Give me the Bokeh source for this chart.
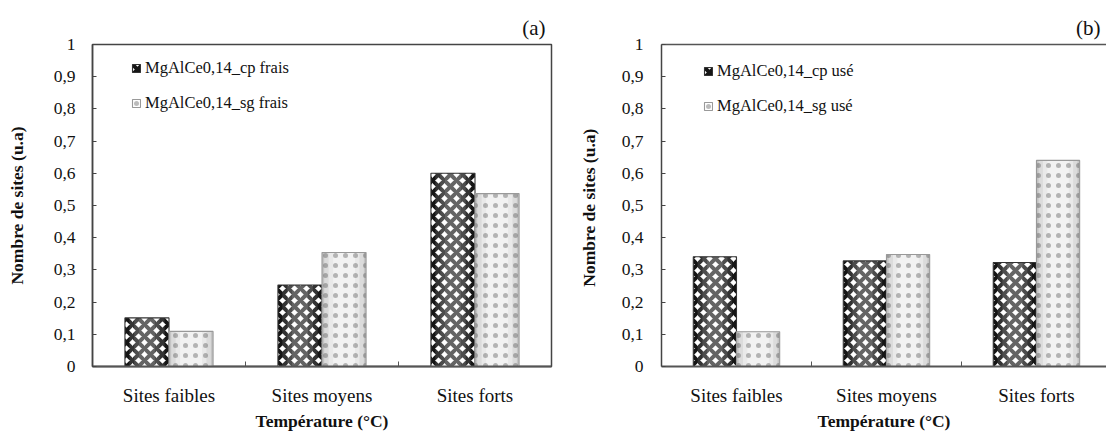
from bokeh.plotting import figure
from bokeh.layouts import row
from bokeh.models import (ColumnDataSource, FixedTicker, CustomJSTickFormatter, Legend,
                          LegendItem, LinearAxis, Range1d)
from bokeh.transform import dodge
from bokeh.embed import file_html
from bokeh.resources import INLINE

# ---- data ----
categories = ["Sites faibles", "Sites moyens", "Sites forts"]
y_ticks = [0, 0.1, 0.2, 0.3, 0.4, 0.5, 0.6, 0.7, 0.8, 0.9, 1.0]
frais_cp = [0.151, 0.253, 0.600]
frais_sg = [0.109, 0.354, 0.537]
use_cp = [0.341, 0.328, 0.323]
use_sg = [0.108, 0.348, 0.640]
labels_a = ["MgAlCe0,14_cp frais", "MgAlCe0,14_sg frais"]
labels_b = ["MgAlCe0,14_cp usé", "MgAlCe0,14_sg usé"]
y_title_a = "Nombre de sites (u.a)"
y_title_b = "Nombre  de sites (u.a)"
x_title = "Température (°C)"

FONT = "Liberation Serif"
BW = 0.288


def cp_bars(p, src, field, offset):
    x = dodge('idx', offset, range=None)
    base = p.vbar(x=x, top=field, width=BW, source=src, fill_color="white",
                  line_color=None, hatch_pattern="diagonal_cross",
                  hatch_color="#151515", hatch_weight=4, hatch_scale=12)
    for f in [0.8, 0.58, 0.36]:
        p.vbar(x=x, top=field, width=BW * f, source=src, fill_color="white",
               fill_alpha=0.13, line_color=None)
    top = p.vbar(x=x, top=field, width=BW, source=src, fill_alpha=0,
                 line_color="#333", line_width=1.1)
    return [base, top]


def sg_bars(p, src, field, offset):
    x = dodge('idx', offset, range=None)
    p.vbar(x=x, top=field, width=BW, source=src, fill_color="#c4c4c4", line_color=None)
    for f in [0.9, 0.7, 0.5]:
        p.vbar(x=x, top=field, width=BW * f, source=src, fill_color="white",
               fill_alpha=0.4, line_color=None)
    top = p.vbar(x=x, top=field, width=BW, source=src, fill_alpha=0,
                 line_color="#999", line_width=1.1, hatch_pattern="dot",
                 hatch_color="#555", hatch_alpha=0.4, hatch_scale=10, hatch_weight=0.3)
    return [top]


def make_panel(tag, cp, sg, names, ytitle, width, border_left, x_end, clip_right,
               leg_loc, ylab_standoff, ytitle_standoff):
    src = ColumnDataSource(dict(idx=list(range(len(categories))), cp=cp, sg=sg))
    p = figure(width=width, height=433, output_backend="svg", toolbar_location=None,
               tools="", x_range=Range1d(-0.5, x_end), y_range=Range1d(0, 1),
               min_border_left=border_left, min_border_right=0 if clip_right else 2,
               min_border_top=44, min_border_bottom=58)
    p.background_fill_color = "white"
    p.border_fill_color = "white"
    p.xgrid.visible = False
    p.ygrid.visible = False

    p.title.text = tag
    p.title.align = "right"
    p.title.text_font = FONT
    p.title.text_font_size = "21px"
    p.title.text_font_style = "normal"
    p.title.text_color = "#111"
    p.title.offset = 6

    r1 = cp_bars(p, src, 'cp', -BW / 2)
    r2 = sg_bars(p, src, 'sg', BW / 2)

    legend = Legend(items=[LegendItem(label=names[0], renderers=r1),
                           LegendItem(label=names[1], renderers=r2)],
                    location=leg_loc, padding=0, margin=0, spacing=15,
                    label_height=20, glyph_width=10, glyph_height=10,
                    label_standoff=4, border_line_color=None,
                    background_fill_alpha=0,
                    label_text_font=FONT, label_text_font_size="16.5px",
                    label_text_color="#111")
    p.add_layout(legend)

    # y axis
    ya = p.yaxis[0]
    ya.ticker = FixedTicker(ticks=y_ticks)
    ya.formatter = CustomJSTickFormatter(
        code="return tick.toFixed(1).replace('.', ',').replace(/,0$/, '');")
    ya.major_tick_in = 4
    ya.major_tick_out = 0
    ya.major_tick_line_color = "#444"
    ya.minor_tick_line_color = None
    ya.axis_line_color = "#444"
    ya.axis_line_width = 1.5
    ya.major_label_standoff = ylab_standoff
    ya.major_label_text_font = FONT
    ya.major_label_text_font_size = "17.5px"
    ya.major_label_text_color = "#111"
    ya.axis_label = ytitle
    ya.axis_label_text_font = FONT
    ya.axis_label_text_font_style = "bold"
    ya.axis_label_text_font_size = "17.5px"
    ya.axis_label_text_color = "#111"
    ya.axis_label_standoff = ytitle_standoff

    # x axis
    xa = p.xaxis[0]
    xa.ticker = FixedTicker(ticks=[0, 1, 2], minor_ticks=[0.5, 1.5])
    xa.formatter = CustomJSTickFormatter(args=dict(cats=categories),
                                         code="return cats[Math.round(tick)];")
    xa.major_tick_line_color = None
    xa.minor_tick_in = 5
    xa.minor_tick_out = 0
    xa.minor_tick_line_color = "#555"
    xa.axis_line_color = "#555"
    xa.axis_line_width = 2
    xa.major_label_standoff = 12
    xa.major_label_text_font = FONT
    xa.major_label_text_font_size = "19px"
    xa.major_label_text_color = "#111"
    xa.axis_label = x_title
    xa.axis_label_text_font = FONT
    xa.axis_label_text_font_style = "bold"
    xa.axis_label_text_font_size = "17.5px"
    xa.axis_label_text_color = "#111"
    xa.axis_label_standoff = 2

    if clip_right:
        p.outline_line_color = None
        top_axis = LinearAxis(ticker=FixedTicker(ticks=[]), major_label_text_font_size="0px",
                              axis_line_color="#555", axis_line_width=1.5,
                              major_tick_in=0, major_tick_out=0,
                              minor_tick_line_color=None, major_tick_line_color=None,
                              major_label_standoff=0)
        p.add_layout(top_axis, "above")
    else:
        p.outline_line_color = "#444"
        p.outline_line_width = 1.5
    return p


p1 = make_panel("(a)", frais_cp, frais_sg, labels_a, y_title_a, 553, 92, 2.5, False,
                (39, 253), 17, 24)
p2 = make_panel("(b)", use_cp, use_sg, labels_b, y_title_b, 553, 108, 2.467, True,
                (42, 250), 18, 20)

layout = row(p1, p2, spacing=0)
open("out.html", "w").write(file_html(layout, INLINE))
